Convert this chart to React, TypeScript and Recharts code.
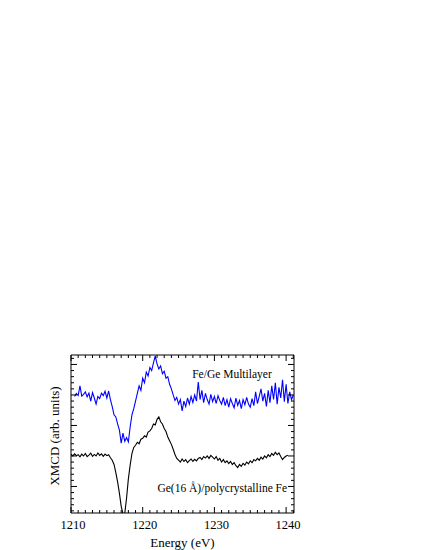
import React from "react";
import {
  LineChart,
  Line,
  XAxis,
  YAxis,
  ReferenceDot,
} from "recharts";

const serif = "'Liberation Serif', 'Times New Roman', Times, serif";

// photon energy grid (eV)
const energies = [
  1210, 1210.25, 1210.5, 1210.75, 1211, 1211.25, 1211.5, 1211.75,
  1212, 1212.25, 1212.5, 1212.75, 1213, 1213.25, 1213.5, 1213.75,
  1214, 1214.25, 1214.5, 1214.75, 1215, 1215.25, 1215.5, 1215.75,
  1216, 1216.25, 1216.5, 1216.75, 1217, 1217.25, 1217.5, 1217.75,
  1218, 1218.25, 1218.5, 1218.75, 1219, 1219.25, 1219.5, 1219.75,
  1220, 1220.25, 1220.5, 1220.75, 1221, 1221.25, 1221.5, 1221.75,
  1222, 1222.25, 1222.5, 1222.75, 1223, 1223.25, 1223.5, 1223.75,
  1224, 1224.25, 1224.5, 1224.75, 1225, 1225.25, 1225.5, 1225.75,
  1226, 1226.25, 1226.5, 1226.75, 1227, 1227.25, 1227.5, 1227.75,
  1228, 1228.25, 1228.5, 1228.75, 1229, 1229.25, 1229.5, 1229.75,
  1230, 1230.25, 1230.5, 1230.75, 1231, 1231.25, 1231.5, 1231.75,
  1232, 1232.25, 1232.5, 1232.75, 1233, 1233.25, 1233.5, 1233.75,
  1234, 1234.25, 1234.5, 1234.75, 1235, 1235.25, 1235.5, 1235.75,
  1236, 1236.25, 1236.5, 1236.75, 1237, 1237.25, 1237.5, 1237.75,
  1238, 1238.25, 1238.5, 1238.75, 1239, 1239.25, 1239.5, 1239.75,
  1240, 1240.25, 1240.5, 1240.75, 1241,
];

// Fe/Ge multilayer (blue)
const multilayer = [
  null, null, 3.95, 4.05, 3.98, 4.3, 3.96, 4.02,
  4.1, 3.94, 4.06, 3.8, 4.08, 3.9, 3.7, 3.95,
  3.88, 4.06, 3.98, 4.12, 3.9, 4.13, 3.85, 3.62,
  3.35, 3.28, 3.05, 2.85, 2.42, 2.75, 2.48, 2.6,
  2.46, 2.95, 3.35, 3.55, 3.8, 4.05, 4.3, 4.15,
  4.55, 4.4, 4.75, 4.62, 4.9, 4.8, 5.05, 5.28,
  5.02, 4.85, 4.95, 4.7, 4.78, 4.55, 4.6, 4.35,
  4.2, 4.0, 3.82, 3.92, 3.7, 3.85, 3.48, 3.8,
  3.62, 3.9, 3.7, 3.95, 3.75, 4.0, 3.8, 4.42,
  3.85, 4.15, 3.75, 4.05, 3.85, 3.7, 4.02, 3.78,
  3.95, 3.72, 3.98, 3.82, 3.7, 3.92, 3.65, 3.85,
  3.6, 3.88, 3.72, 3.58, 3.9, 3.66, 3.82, 3.55,
  3.85, 3.68, 3.92, 3.7, 3.6, 3.88, 3.65, 4.1,
  3.72, 3.95, 4.2, 3.8, 4.05, 3.62, 4.15, 3.75,
  4.3, 3.85, 4.4, 3.7, 4.25, 3.9, 4.5, 3.78,
  4.35, 3.72, 4.1, 3.85, 4.0,
];

// Ge(16 Å)/polycrystalline Fe (black)
const polyFe = [
  2.06, 2.0, 2.07, 2.01, 2.04, 1.97, 2.06, 2.0,
  2.08, 1.98, 2.03, 2.09, 1.99, 2.05, 2.0, 2.1,
  2.02, 2.07, 1.99, 2.06, 2.01, 2.04, 1.94, 1.86,
  1.72, 1.45, 1.15, 0.78, 0.35, 0.1, 0.12, 0.62,
  1.25, 1.7, 2.08, 2.28, 2.35, 2.45, 2.4, 2.55,
  2.58, 2.66, 2.62, 2.78, 2.82, 2.9, 3.05, 3.02,
  3.2, 3.28, 3.12, 3.05, 2.9, 2.8, 2.62, 2.5,
  2.38, 2.22, 2.05, 1.92, 1.86, 1.8, 1.9, 1.82,
  1.88, 1.78, 1.85, 1.9, 1.82, 1.89, 1.84, 1.92,
  1.95, 1.88, 1.98, 1.93, 2.0, 1.92, 2.02, 1.96,
  1.9, 1.98, 1.86, 1.92, 1.8, 1.88, 1.78, 1.84,
  1.75, 1.82, 1.72, 1.78, 1.68, 1.62, 1.72, 1.66,
  1.76, 1.7, 1.8, 1.74, 1.84, 1.78, 1.88, 1.84,
  1.92, 1.86, 1.96, 1.9, 2.0, 1.94, 2.04, 1.98,
  2.08, 2.02, 2.12, 2.04, 2.1, 1.98, 1.88, 1.95,
  2.0, 2.02, null, null, null,
];

const xTicks = [
  1210, 1211, 1212, 1213, 1214, 1215, 1216, 1217, 1218, 1219,
  1220, 1221, 1222, 1223, 1224, 1225, 1226, 1227, 1228, 1229,
  1230, 1231, 1232, 1233, 1234, 1235, 1236, 1237, 1238, 1239,
  1240, 1241,
];

const yTicks = [
  0.2, 0.4, 0.6, 0.8, 1, 1.2, 1.4, 1.6, 1.8, 2, 2.2, 2.4, 2.6,
  2.8, 3, 3.2, 3.4, 3.6, 3.8, 4, 4.2, 4.4, 4.6, 4.8, 5, 5.2,
];

const data = energies.map((e, i) => ({
  e,
  multilayer: multilayer[i],
  polyFe: polyFe[i],
}));

const txt = (size: number) => ({ fontFamily: serif, fontSize: size, fill: "#000" });

// ticks point inward; only the bottom axis carries numbers
function XTick(props: any) {
  const { x, y, payload, side } = props;
  const major = payload.value % 10 === 0;
  const len = major ? 6 : 3;
  const dir = side === "top" ? 1 : -1;
  return (
    <g>
      <line x1={x} y1={y} x2={x} y2={y + dir * len} stroke="#000" strokeWidth={1} />
      {side === "bottom" && major && (
        <text x={x + 2} y={y + 15.5} textAnchor="middle" style={txt(12.5)}>
          {payload.value}
        </text>
      )}
    </g>
  );
}

function YTick(props: any) {
  const { x, y, payload, side } = props;
  const v = payload.value;
  const major = Math.abs(v - Math.round(v)) < 1e-6;
  const len = major ? 6 : 3;
  const dir = side === "right" ? -1 : 1;
  return <line x1={x} y1={y} x2={x + dir * len} y2={y} stroke="#000" strokeWidth={1} />;
}

function XTitle({ viewBox }: any) {
  return (
    <text x={viewBox.x + viewBox.width / 2} y={viewBox.y + 34} textAnchor="middle" style={txt(13)}>
      Energy (eV)
    </text>
  );
}

function YTitle({ viewBox }: any) {
  const x = viewBox.x + viewBox.width - 12;
  const y = viewBox.y + viewBox.height / 2 + 2;
  return (
    <text x={x} y={y} transform={`rotate(-90, ${x}, ${y})`} textAnchor="middle" style={txt(13)}>
      XMCD (arb. units)
    </text>
  );
}

const noteStyle = txt(11.5);

export default function App() {
  return (
    <div style={{ position: "absolute", left: 0, top: 0, width: 425, height: 550 }}>
      <LineChart
        width={425}
        height={550}
        data={data}
        margin={{ top: 354, right: 130, bottom: 36, left: 70 }}
      >
        <XAxis
          xAxisId="b"
          dataKey="e"
          type="number"
          domain={[1210, 1241.1]}
          allowDataOverflow
          ticks={xTicks}
          interval={0}
          height={1}
          tickSize={0}
          tickMargin={0}
          tickLine={false}
          axisLine={{ stroke: "#000" }}
          tick={<XTick side="bottom" />}
          label={<XTitle />}
        />
        <XAxis
          xAxisId="t"
          orientation="top"
          dataKey="e"
          type="number"
          domain={[1210, 1241.1]}
          allowDataOverflow
          ticks={xTicks}
          interval={0}
          height={1}
          tickSize={0}
          tickMargin={0}
          tickLine={false}
          axisLine={{ stroke: "#000" }}
          tick={<XTick side="top" />}
        />
        <YAxis
          yAxisId="l"
          type="number"
          domain={[0.13, 5.31]}
          allowDataOverflow
          ticks={yTicks}
          interval={0}
          width={1}
          tickSize={0}
          tickMargin={0}
          tickLine={false}
          axisLine={{ stroke: "#000" }}
          tick={<YTick side="left" />}
          label={<YTitle />}
        />
        <YAxis
          yAxisId="r"
          orientation="right"
          type="number"
          domain={[0.13, 5.31]}
          allowDataOverflow
          ticks={yTicks}
          interval={0}
          width={1}
          tickSize={0}
          tickMargin={0}
          tickLine={false}
          axisLine={{ stroke: "#000" }}
          tick={<YTick side="right" />}
        />
        <Line
          xAxisId="b"
          yAxisId="l"
          type="linear"
          dataKey="polyFe"
          stroke="#000000"
          strokeWidth={1.1}
          dot={false}
          isAnimationActive={false}
        />
        <Line
          xAxisId="b"
          yAxisId="l"
          type="linear"
          dataKey="multilayer"
          stroke="#0000ff"
          strokeWidth={1.1}
          dot={false}
          isAnimationActive={false}
        />
        <ReferenceDot
          xAxisId="b"
          yAxisId="l"
          x={1232.45}
          y={4.68}
          r={0}
          fill="none"
          stroke="none"
          label={{ value: "Fe/Ge Multilayer", position: "center", style: noteStyle }}
        />
        <ReferenceDot
          xAxisId="b"
          yAxisId="l"
          x={1231.1}
          y={0.96}
          r={0}
          fill="none"
          stroke="none"
          label={{ value: "Ge(16 Å)/polycrystalline Fe", position: "center", style: noteStyle }}
        />
      </LineChart>
    </div>
  );
}
